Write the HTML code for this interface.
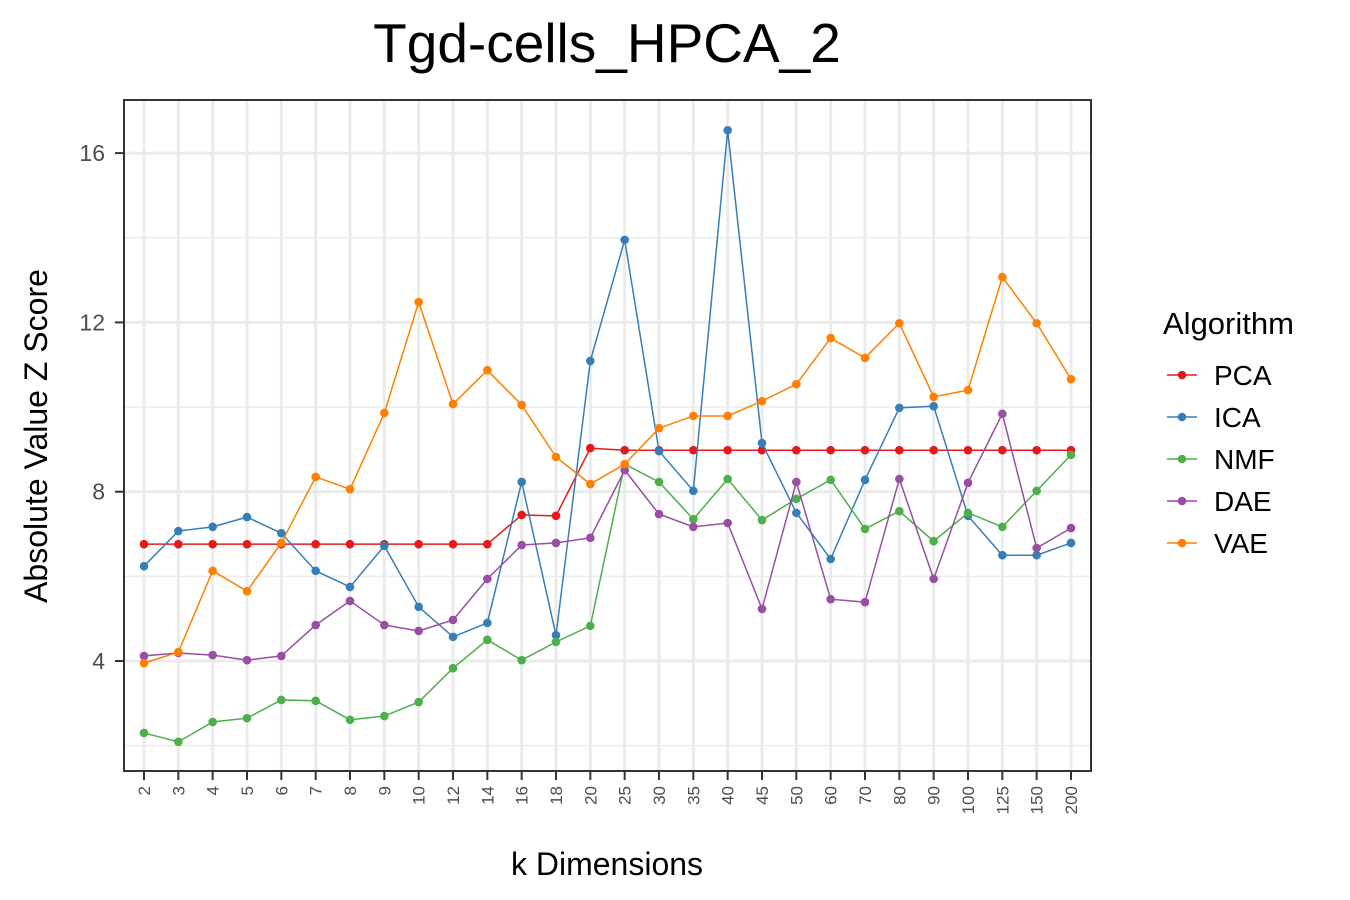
<!DOCTYPE html>
<html><head><meta charset="utf-8">
<style>
body{margin:0;background:#fff;}
svg{display:block;font-family:"Liberation Sans",Arial,sans-serif;}
</style></head>
<body>
<svg id="chart" width="1350" height="900" xmlns="http://www.w3.org/2000/svg">
<rect width="1350" height="900" fill="#fff"/>
<text x="607" y="62" font-size="55" text-anchor="middle" fill="#000">Tgd-cells_HPCA_2</text>
<g id="grid"></g>
<g id="series"></g>
<rect x="124" y="100" width="967" height="671" fill="none" stroke="#333" stroke-width="2"/>
<g id="axes"></g>
<text x="607" y="875" font-size="32" text-anchor="middle">k Dimensions</text>
<text transform="translate(47,436) rotate(-90)" font-size="32" text-anchor="middle">Absolute Value Z Score</text>
<g id="legend"></g>
</svg>
<script>
const categories=["2","3","4","5","6","7","8","9","10","12","14","16","18","20","25","30","35","40","45","50","60","70","80","90","100","125","150","200"];
const seriesNames=["PCA","ICA","NMF","DAE","VAE"];
const seriesColors=["#e41a1c","#377eb8","#4daf4a","#984ea3","#ff7f00"];
const pcaValues=[6.76,6.76,6.76,6.76,6.76,6.76,6.76,6.76,6.76,6.76,6.76,7.45,7.43,9.03,8.98,8.98,8.98,8.98,8.98,8.98,8.98,8.98,8.98,8.98,8.98,8.98,8.98,8.98];
const icaValues=[6.24,7.07,7.17,7.40,7.02,6.13,5.75,6.72,5.28,4.57,4.90,8.23,4.61,11.09,13.95,8.96,8.02,16.54,9.15,7.50,6.41,8.28,9.98,10.02,7.43,6.50,6.50,6.79];
const nmfValues=[2.30,2.09,2.56,2.65,3.08,3.06,2.61,2.70,3.03,3.83,4.50,4.02,4.45,4.83,8.65,8.23,7.35,8.30,7.33,7.83,8.28,7.12,7.54,6.83,7.50,7.17,8.02,8.87];
const daeValues=[4.12,4.19,4.14,4.02,4.12,4.85,5.42,4.85,4.71,4.97,5.94,6.74,6.79,6.91,8.51,7.47,7.17,7.26,5.23,8.23,5.46,5.39,8.30,5.94,8.21,9.84,6.67,7.14];
const vaeValues=[3.95,4.21,6.13,5.65,6.79,8.35,8.06,9.86,12.48,10.07,10.87,10.05,8.82,8.18,8.65,9.50,9.79,9.79,10.14,10.54,11.63,11.16,11.98,10.24,10.40,13.07,11.98,10.66];
const yTicks=[4,8,12,16];
const yMinor=[2,6,10,14];

const NS="http://www.w3.org/2000/svg";
const xScale=i=>144+i*(1071-144)/(categories.length-1);
const yScale=v=>661-(v-4)*(169.3/4);
function mk(tag,attrs,parent){const e=document.createElementNS(NS,tag);for(const k in attrs)e.setAttribute(k,attrs[k]);parent.appendChild(e);return e;}
const grid=document.getElementById('grid'),ser=document.getElementById('series'),axes=document.getElementById('axes'),leg=document.getElementById('legend');
yMinor.forEach(v=>{const l=mk('line',{x1:124,x2:1091,y1:yScale(v),y2:yScale(v),stroke:'#ebebeb','stroke-width':1.5},grid);

});
yTicks.forEach(v=>{const l=mk('line',{x1:124,x2:1091,y1:yScale(v),y2:yScale(v),stroke:'#ebebeb','stroke-width':3},grid);


const t=mk('line',{x1:115,x2:124,y1:yScale(v),y2:yScale(v),stroke:'#333','stroke-width':2},axes);


const tx=mk('text',{x:105,y:yScale(v)+8,'font-size':23,'text-anchor':'end',fill:'#4d4d4d'},axes);tx.textContent=v;

});
categories.forEach((c,i)=>{const x=xScale(i);
const l=mk('line',{x1:x,x2:x,y1:100,y2:771,stroke:'#ebebeb','stroke-width':3},grid);


const t=mk('line',{x1:x,x2:x,y1:771,y2:780,stroke:'#333','stroke-width':2},axes);


const tx=mk('text',{transform:`translate(${x+6},786) rotate(-90)`,'font-size':17,'text-anchor':'end',fill:'#4d4d4d'},axes);tx.textContent=c;

});
const allSeries=[pcaValues,icaValues,nmfValues,daeValues,vaeValues];
allSeries.forEach((vals,s)=>{const col=seriesColors[s];
const p=mk('polyline',{points:vals.map((v,i)=>xScale(i)+','+yScale(v)).join(' '),fill:'none',stroke:col,'stroke-width':1.5},ser);


vals.forEach((v,i)=>{const c=mk('circle',{cx:xScale(i),cy:yScale(v),r:4.3,fill:col},ser);

});
const ly=375+s*42;
const ll=mk('line',{x1:1167,x2:1197,y1:ly,y2:ly,stroke:col,'stroke-width':1.5},leg);


const lc=mk('circle',{cx:1182,cy:ly,r:4.3,fill:col},leg);


const lt=mk('text',{x:1214,y:ly+10,'font-size':28,fill:'#000'},leg);lt.textContent=seriesNames[s];

});
const ttl=mk('text',{x:1163,y:334,'font-size':31,fill:'#000'},leg);ttl.textContent='Algorithm';


</script>
</body></html>
